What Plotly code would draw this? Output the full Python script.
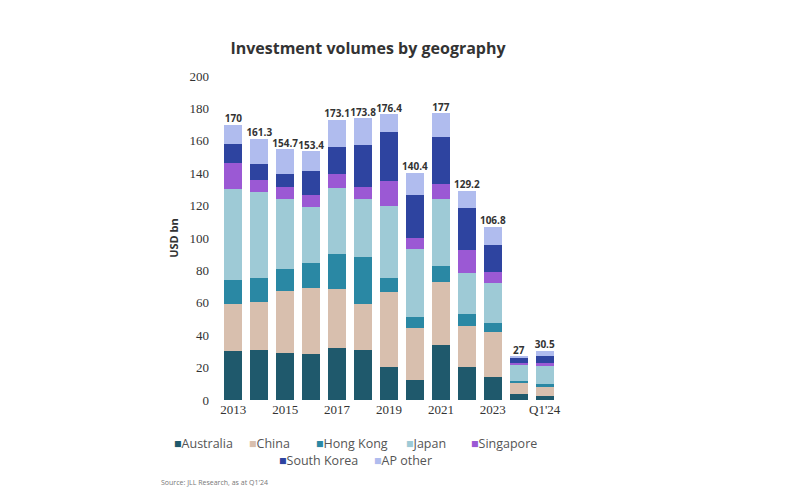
import plotly.graph_objects as go

periods = ["2013", "2014", "2015", "2016", "2017", "2018", "2019", "2020",
           "2021", "2022", "2023", "Q1'23", "Q1'24"]
shown_ticks = ["2013", "2015", "2017", "2019", "2021", "2023", "Q1'24"]

australia = [30.5, 30.9, 28.8, 28.4, 32.3, 30.9, 20.6, 12.3, 33.7, 20.6, 14.4, 3.5, 2.7]
china = [28.6, 29.6, 38.5, 40.5, 36.4, 28.2, 45.9, 32.4, 39.3, 25.1, 27.8, 6.8, 5.9]
hong_kong = [15.0, 15.0, 13.6, 15.5, 21.6, 29.0, 8.8, 6.3, 9.9, 7.4, 5.1, 1.6, 1.1]
japan = [55.9, 53.1, 43.0, 34.9, 40.4, 36.2, 44.5, 42.4, 41.2, 25.1, 24.7, 9.7, 11.3]
singapore = [16.1, 7.2, 7.8, 7.4, 8.8, 7.2, 15.6, 6.8, 9.2, 14.4, 7.2, 1.4, 2.0]
south_korea = [11.9, 9.7, 8.0, 14.5, 16.9, 25.7, 30.2, 26.5, 29.3, 26.1, 16.5, 2.7, 4.4]
ap_other = [12.0, 15.8, 15.0, 12.2, 16.7, 16.6, 10.8, 13.7, 14.4, 10.5, 11.1, 1.3, 3.1]

totals = [170, 161.3, 154.7, 153.4, 173.1, 173.8, 176.4, 140.4, 177, 129.2, 106.8, 27, 30.5]

names = ["Australia", "China", "Hong Kong", "Japan", "Singapore", "South Korea", "AP other"]
colors = ["#1f596c", "#d8bfae", "#2a88a4", "#9ecad6", "#9b59d4", "#2e44a0", "#b0bcee"]
values = [australia, china, hong_kong, japan, singapore, south_korea, ap_other]

# legend entry placement (paper coords), two centred rows like the original
leg_pos = [(-0.126, -0.133), (0.09, -0.133), (0.283, -0.133), (0.543, -0.133),
           (0.731, -0.133), (0.177, -0.186), (0.452, -0.186)]

fig = go.Figure()
for name, vals, col in zip(names, values, colors):
    fig.add_trace(go.Bar(x=periods, y=vals, name=name, marker_color=col,
                         marker_line_width=0, showlegend=False))

# totals above each bar
fig.add_trace(go.Scatter(
    x=periods, y=totals, mode="text",
    text=["<b>%g</b>" % t for t in totals],
    textposition="top center",
    textfont=dict(family="Open Sans", size=10, color="#333333"),
    showlegend=False, hoverinfo="skip"))

annos = []
for name, col, (lx, ly) in zip(names, colors, leg_pos):
    annos.append(dict(text="<span style='color:%s'>■</span>%s" % (col, name),
                      xref="paper", yref="paper", x=lx, y=ly,
                      xanchor="left", yanchor="middle", showarrow=False,
                      font=dict(family="Open Sans", size=12.5, color="#555555")))
annos.append(dict(text="Source: JLL Research, as at Q1'24",
                  xref="paper", yref="paper", x=-0.165, y=-0.255,
                  xanchor="left", yanchor="middle", showarrow=False,
                  font=dict(family="Open Sans", size=7, color="#777777")))

fig.update_layout(
    barmode="stack",
    bargap=0.31,
    width=800, height=500,
    margin=dict(l=208, r=246, t=68, b=108, autoexpand=False),
    paper_bgcolor="white", plot_bgcolor="white",
    title=dict(text="<b>Investment volumes by geography</b>",
               x=0.45, xanchor="center", y=0.92, yanchor="middle",
               font=dict(family="Open Sans", size=16, color="#333333")),
    annotations=annos,
)

fig.update_xaxes(type="category", tickvals=shown_ticks, ticks="", showline=False,
                 showgrid=False,
                 tickfont=dict(family="Liberation Serif", size=13, color="#333333"))
fig.update_yaxes(range=[0, 200], dtick=20, showgrid=False, zeroline=False,
                 ticks="", showline=False, ticklabelstandoff=6,
                 tickfont=dict(family="Liberation Serif", size=13, color="#333333"),
                 title=dict(text="<b>USD bn</b>", standoff=8,
                            font=dict(family="Open Sans", size=11, color="#333333")))

fig.write_html("out.html")
